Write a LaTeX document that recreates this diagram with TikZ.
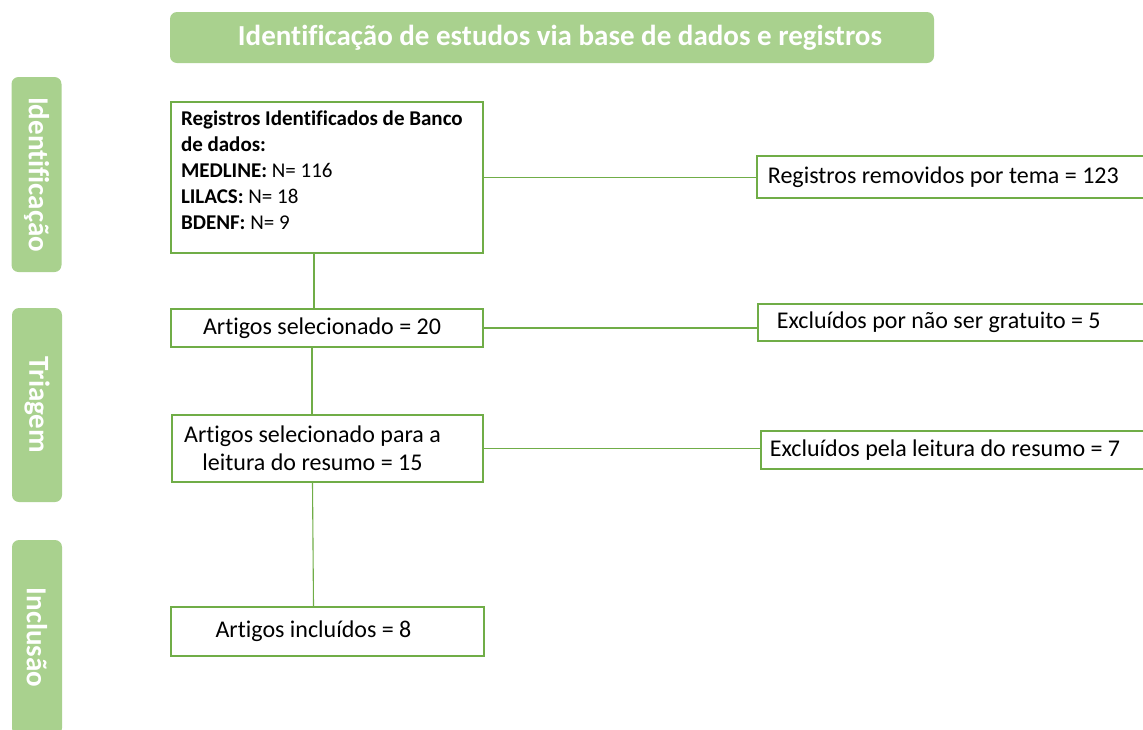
\documentclass[tikz,border=0pt]{standalone}
\usepackage{fontspec}
\setmainfont{Carlito}[Ligatures=NoCommon]
\definecolor{gfill}{HTML}{A9D18E}
\definecolor{gline}{HTML}{70AD47}
\begin{document}
\begin{tikzpicture}[x=1pt,y=-1pt,
  band/.style={fill=gfill, rounded corners=7pt, text=white, inner sep=0pt, font=\fontsize{29}{32}\selectfont\bfseries},
  box/.style={draw=gline, line width=1.8pt, inner sep=0pt, font=\fontsize{24}{28}\selectfont},
  link/.style={draw=gline, line width=1.1pt}]
\useasboundingbox (0,0) rectangle (1143,729);
% title and side bands
\node[band, minimum width=764, minimum height=51] (title) at (552,37.5) {\hspace*{16pt}Identificação de estudos via base de dados e registros};
\node[band, rotate=-90, minimum width=195, minimum height=50] (bid) at (36.5,174.5) {Identificação};
\node[band, rotate=-90, minimum width=194, minimum height=50] (btr) at (37,405) {Triagem};
\node[band, rotate=-90, minimum width=195, minimum height=50] (binc) at (37,637.5) {Inclusão};
% main boxes
\node[box, minimum width=312, minimum height=151, text width=292, text depth=119pt, align=flush left, font=\fontsize{21}{26}\selectfont] (ident) at (327,177.5)
  {\textbf{Registros Identificados de Banco}\\\textbf{de dados:}\\\textbf{MEDLINE:} N= 116\\\textbf{LILACS:} N= 18\\\textbf{BDENF:} N= 9};
\node[box, minimum width=312, minimum height=38] (sel) at (327,328) {Artigos selecionado = 20\hspace*{10pt}};
\node[box, minimum width=311, minimum height=67, align=center] (leit) at (327.5,448.5) {Artigos selecionado para a\hspace*{30pt}\\leitura do resumo = 15\hspace*{30pt}};
\node[box, minimum width=313, minimum height=49] (inc) at (327.5,631.5) {Artigos incluídos = 8\hspace*{28pt}};
% right boxes
\node[box, anchor=west, inner xsep=11pt, text width=400, minimum height=42, align=flush left] (rem) at (756,177) {Registros removidos por tema = 123};
\node[box, anchor=west, inner xsep=11pt, text width=400, minimum height=37, align=flush left] (ex1) at (757,322.5) {\hspace{8pt}Excluídos por não ser gratuito = 5};
\node[box, anchor=west, inner xsep=9pt, text width=400, minimum height=38, align=flush left] (ex2) at (760,450) {Excluídos pela leitura do resumo = 7};
% connectors
\draw[link] (ident.east) -- (ident.east -| rem.west);
\draw[link] (sel.east) -- (sel.east -| ex1.west);
\draw[link] (leit.east) -- (leit.east -| ex2.west);
\draw[link] ([xshift=-13pt]ident.south) -- ([xshift=-13pt]ident.south |- sel.north);
\draw[link] ([xshift=-15pt]sel.south) -- ([xshift=-15pt]sel.south |- leit.north);
\draw[link] ([xshift=-15pt]leit.south) -- ([xshift=-14pt]leit.south |- inc.north);
\end{tikzpicture}
\end{document}
